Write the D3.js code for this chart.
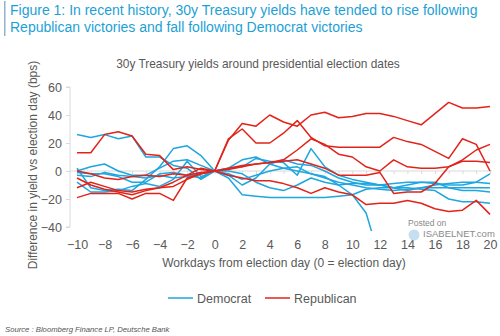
<!DOCTYPE html>
<html>
<head>
<meta charset="utf-8">
<script src="https://cdn.jsdelivr.net/npm/d3@7"></script>
<style>
  html, body { margin: 0; padding: 0; background: #fff; }
  svg { display: block; font-family: "Liberation Sans", Arial, sans-serif; }
</style>
</head>
<body>
<svg id="chart" width="500" height="336"></svg>
<script>
// Workdays relative to election day
const days = d3.range(-10, 21);

// Yield change vs election day (bps), one array per election
const democrat = [
  [26,24,26,23,25,10,10,4,2,-6,0,  2,3,9,7,6,-3,16,3,-3,-6,-8,-10,-12,-10,-8,-9,-10,-10,-8,-2],
  [2,-12,-14,-13,-14,-6,3,16,18,11,0,  -3,-10,-5,5,8,5,4,0,-5,-8,-10,-10,-12,-14,-12,-10,-9,-8,-8,-9],
  [-8,-15,-15,-14,-11,-9,-11,-6,7,-4,0,  -5,-17,-18,-19,-19,-19,-19,-19,-18,-17,-13,-12,-12,-12,-13,-14,-20,-22,-22,-23],
  [0,3,5,0,-3,-3,2,7,8,4,0,  2,8,10,5,2,0,-2,-5,-8,-10,-12,-13,-14,-13,-12,-12,-12,-14,-14,-15],
  [-3,-4,-1,-3,-4,-5,-3,-5,-4,-2,0,  -2,-6,-3,0,2,3,-2,-4,-10,-17,-30,-63,null,null,null,null,null,null,null,null],
  [-1,-2,-2,-4,-8,-8,-2,-1,-3,-5,0,  0,-2,-8,-12,-14,-10,-5,-8,-10,-9,-9,-10,-9,-8,-8,-8,-12,-12,-12,-12]
];
const republican = [
  [13,13,26,28,25,12,11,1,3,1,0,  22,34,32,40,35,32,40,42,38,39,41,41,39,36,33,41,49,45,45,46],
  [0,-2,-5,-6,-4,-3,-4,-2,-3,-1,0,  23,30,20,20,27,36,24,18,17,17,17,17,24,21,19,14,9,23,19,0],
  [-12,-8,-11,-14,-15,-13,-12,-11,-6,-2,0,  2,4,5,6,8,15,23,19,12,10,3,0,8,3,2,2,3,7,7,6],
  [-19,-16,-16,-16,-20,-16,-16,-21,-5,-2,0,  1,3,5,6,7,8,5,2,-3,-3,-3,-1,-16,-15,-15,-9,3,8,15,19],
  [-5,-10,-13,-15,-17,-14,-12,-8,-3,2,0,  -3,-5,-7,-7,-9,-12,-16,-12,-15,-17,-24,-23,-23,-21,-23,-27,-29,-28,-21,-31]
];

const yTicks = [60, 40, 20, 0, -20, -40];
const xTicks = d3.range(-10, 21, 2);

const BLUE = "#1fa6df";
const RED = "#e2231a";
const GREY_TEXT = "#595959";
const AXIS = "#d9d9d9";

const svg = d3.select("#chart");

const x = d3.scaleLinear().domain([-10, 20]).range([77, 490]);
const y = d3.scaleLinear().domain([-40, 60]).range([227, 87]);

// Figure heading with side rule
svg.append("rect").attr("x", 4).attr("y", 1).attr("width", 1.5).attr("height", 35).attr("fill", "#8fb3c8");
const head = svg.append("text").attr("fill", "#1d9fd6").attr("font-size", 14);
head.append("tspan").attr("x", 10).attr("y", 15).text("Figure 1: In recent history, 30y Treasury yields have tended to rise following");
head.append("tspan").attr("x", 10).attr("y", 32).text("Republican victories and fall following Democrat victories");

// Chart title
svg.append("text").attr("x", 258).attr("y", 68).attr("text-anchor", "middle")
  .attr("fill", GREY_TEXT).attr("font-size", 11.9)
  .text("30y Treasury yields around presidential election dates");

// Y axis
const yAxis = d3.axisLeft(y).tickValues(yTicks).tickSize(4).tickPadding(4);
const gy = svg.append("g").attr("transform", "translate(70,0)").call(yAxis);
gy.select(".domain").attr("stroke", AXIS).attr("d", `M-4,${y(60)}H0V${y(-40)}H-4`);
gy.selectAll(".tick line").attr("stroke", AXIS);
gy.selectAll(".tick text").attr("fill", GREY_TEXT).attr("font-size", 12.5)
  .attr("font-family", "Liberation Sans, Arial, sans-serif");

// Zero line with day ticks
const gx = svg.append("g").attr("transform", `translate(0,${y(0)})`)
  .call(d3.axisBottom(x).tickValues(days).tickSize(3).tickFormat(""));
gx.select(".domain").attr("stroke", AXIS).attr("d", `M70,0H${x(20) + 2}`);
gx.selectAll(".tick line").attr("stroke", AXIS);

// X tick labels along the bottom
const xLab = d3.axisBottom(x).tickValues(xTicks).tickSize(0).tickPadding(0);
const gxl = svg.append("g").attr("transform", "translate(0,240.5)").call(xLab);
gxl.select(".domain").remove();
gxl.selectAll(".tick text").attr("fill", GREY_TEXT).attr("font-size", 12.5)
  .attr("font-family", "Liberation Sans, Arial, sans-serif");

// Axis titles
svg.append("text").attr("x", 284).attr("y", 267).attr("text-anchor", "middle")
  .attr("fill", GREY_TEXT).attr("font-size", 12)
  .text("Workdays from election day (0 = election day)");
svg.append("text").attr("transform", "translate(37,165) rotate(-90)").attr("text-anchor", "middle")
  .attr("fill", GREY_TEXT).attr("font-size", 12)
  .text("Difference in yield vs election day (bps)");

// Lines
svg.append("clipPath").attr("id", "plot").append("rect")
  .attr("x", 70).attr("y", 78).attr("width", 425).attr("height", 153);

const line = d3.line()
  .defined(d => d[1] !== null)
  .x(d => x(d[0])).y(d => y(d[1]));

const plot = svg.append("g").attr("clip-path", "url(#plot)");
function drawSeries(list, color) {
  plot.selectAll(null).data(list).enter().append("path")
    .attr("d", s => line(days.map((d, i) => [d, s[i]])))
    .attr("fill", "none").attr("stroke", color)
    .attr("stroke-width", 1.5).attr("stroke-linejoin", "round");
}
drawSeries(democrat, BLUE);
drawSeries(republican, RED);

// Watermark
svg.append("circle").attr("cx", 414).attr("cy", 235).attr("r", 5.5).attr("fill", "#9fc8e6").attr("opacity", 0.6);
svg.append("text").attr("x", 408).attr("y", 226).attr("fill", "#8a8a8a").attr("font-size", 8.5).text("Posted on");
svg.append("text").attr("x", 423).attr("y", 237).attr("fill", "#8a8a8a").attr("font-size", 9.5).text("ISABELNET.com");

// Legend
const legend = [["Democrat", BLUE, 168], ["Republican", RED, 265]];
legend.forEach(([name, color, lx]) => {
  svg.append("line").attr("x1", lx).attr("x2", lx + 25).attr("y1", 298).attr("y2", 298)
    .attr("stroke", color).attr("stroke-width", 1.5);
  svg.append("text").attr("x", lx + 29).attr("y", 302.5).attr("fill", GREY_TEXT)
    .attr("font-size", 12.5).text(name);
});

// Source note
svg.append("text").attr("x", 5).attr("y", 332).attr("fill", "#555").attr("font-size", 7.7)
  .attr("font-style", "italic").text("Source : Bloomberg Finance LP, Deutsche Bank");
</script>
</body>
</html>
